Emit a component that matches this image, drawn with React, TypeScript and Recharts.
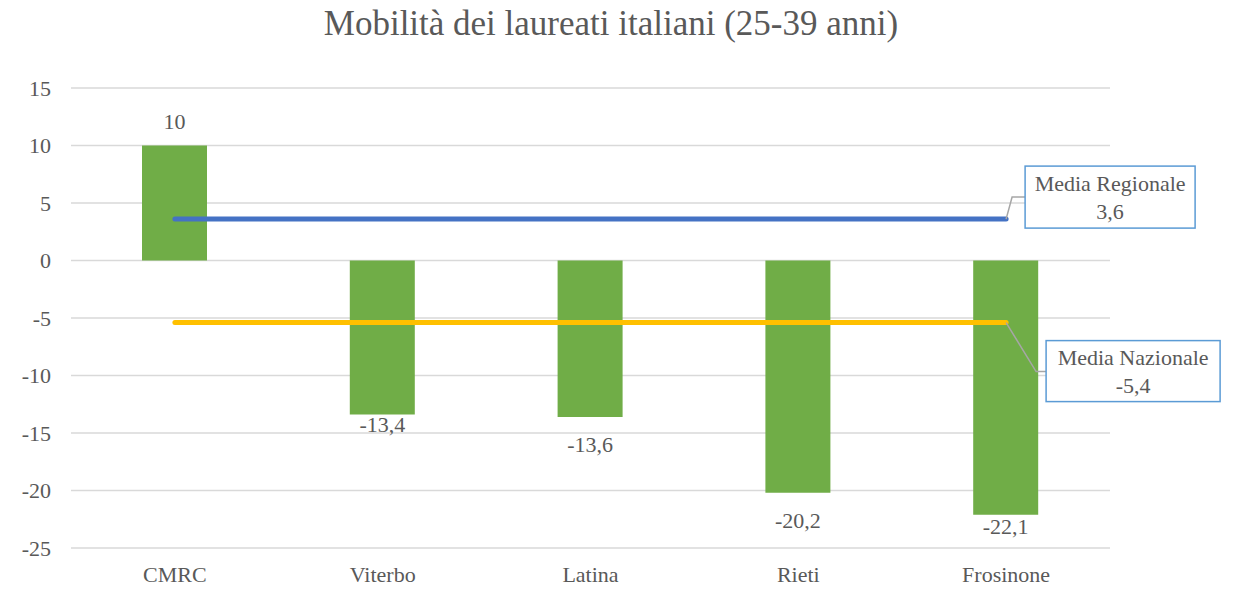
import React from 'react'
import { ComposedChart, Bar, Line, XAxis, YAxis, CartesianGrid, LabelList } from 'recharts'

const categories = ['CMRC', 'Viterbo', 'Latina', 'Rieti', 'Frosinone']
const mobilita = [10, -13.4, -13.6, -20.2, -22.1]
const mediaRegionale = [3.6, 3.6, 3.6, 3.6, 3.6]
const mediaNazionale = [-5.4, -5.4, -5.4, -5.4, -5.4]
const yTicks = [-25, -20, -15, -10, -5, 0, 5, 10, 15]

const data = categories.map((name, i) => ({
  name,
  mobilita: mobilita[i],
  regionale: mediaRegionale[i],
  nazionale: mediaNazionale[i],
}))

const FONT = '"Liberation Serif", "Times New Roman", serif'
const TEXT = '#595959'
const FS = 22

// Excel had the bar labels nudged by hand, so the distance differs per bar
const barLabelGap = [24, 10, 28, 28, 12]

const fmt = (v: number) => String(v).replace('.', ',')

function BarValueLabel(props: any) {
  const { x, y, width, height, value, index } = props
  const top = Math.min(y, y + height)
  const bottom = Math.max(y, y + height)
  const cy = value >= 0 ? top - barLabelGap[index] : bottom + barLabelGap[index]
  return (
    <text x={x + width / 2} y={cy} textAnchor="middle" dominantBaseline="central" fill={TEXT} fontSize={FS} style={{ fontFamily: FONT }}>
      {fmt(value)}
    </text>
  )
}

function makeCallout(title: string, boxDx: number, boxDy: number, boxW: number, boxH: number, elbowDx: number, elbowDy: number) {
  return function Callout(props: any) {
    const { x, y, value, index } = props
    if (index !== categories.length - 1) return null
    const bx = x + boxDx
    const by = y + boxDy
    const ey = y + elbowDy
    return (
      <g>
        <polyline points={`${x},${y} ${x + elbowDx},${ey} ${bx},${ey}`} fill="none" stroke="#a6a6a6" strokeWidth={1.5} />
        <rect x={bx} y={by} width={boxW} height={boxH} fill="#fff" stroke="#5b9bd5" strokeWidth={1.5} />
        <text x={bx + boxW / 2} y={by + boxH * 0.28} textAnchor="middle" dominantBaseline="central" fill={TEXT} fontSize={FS} style={{ fontFamily: FONT }}>
          {title}
        </text>
        <text x={bx + boxW / 2} y={by + boxH * 0.74} textAnchor="middle" dominantBaseline="central" fill={TEXT} fontSize={FS} style={{ fontFamily: FONT }}>
          {fmt(value)}
        </text>
      </g>
    )
  }
}

const RegionaleCallout = makeCallout('Media Regionale', 19, -53, 170, 62, 6, -22)
const NazionaleCallout = makeCallout('Media Nazionale', 40, 18, 174, 61, 30, 49)

export default function App() {
  return (
    <div style={{ position: 'absolute', left: 0, top: 0, width: 1235, height: 590, background: '#fff' }}>
      <div
        style={{
          position: 'absolute',
          left: 0,
          top: 3,
          width: 1222,
          textAlign: 'center',
          fontFamily: FONT,
          fontSize: 35,
          color: TEXT,
          lineHeight: '42px',
        }}
      >
        Mobilità dei laureati italiani (25-39 anni)
      </div>
      <ComposedChart width={1235} height={590} data={data} margin={{ top: 88, right: 125, bottom: 0, left: 0 }} barCategoryGap="34%">
        <CartesianGrid vertical={false} stroke="#d9d9d9" strokeWidth={1.5} />
        <XAxis
          dataKey="name"
          height={42}
          axisLine={false}
          tickLine={false}
          tickSize={0}
          tickMargin={18}
          tick={{ fill: TEXT, fontSize: FS, style: { fontFamily: FONT } }}
        />
        <YAxis
          width={71}
          domain={[-25, 15]}
          ticks={yTicks}
          interval={0}
          axisLine={false}
          tickLine={false}
          tickSize={0}
          tickMargin={20}
          tick={{ fill: TEXT, fontSize: FS, style: { fontFamily: FONT } }}
        />
        <Bar dataKey="mobilita" fill="#70ad47" barSize={65} isAnimationActive={false}>
          <LabelList dataKey="mobilita" content={BarValueLabel} />
        </Bar>
        <Line dataKey="regionale" stroke="#4472c4" strokeWidth={5} strokeLinecap="round" dot={false} activeDot={false} isAnimationActive={false}>
          <LabelList dataKey="regionale" content={RegionaleCallout} />
        </Line>
        <Line dataKey="nazionale" stroke="#ffc000" strokeWidth={5} strokeLinecap="round" dot={false} activeDot={false} isAnimationActive={false}>
          <LabelList dataKey="nazionale" content={NazionaleCallout} />
        </Line>
      </ComposedChart>
    </div>
  )
}
